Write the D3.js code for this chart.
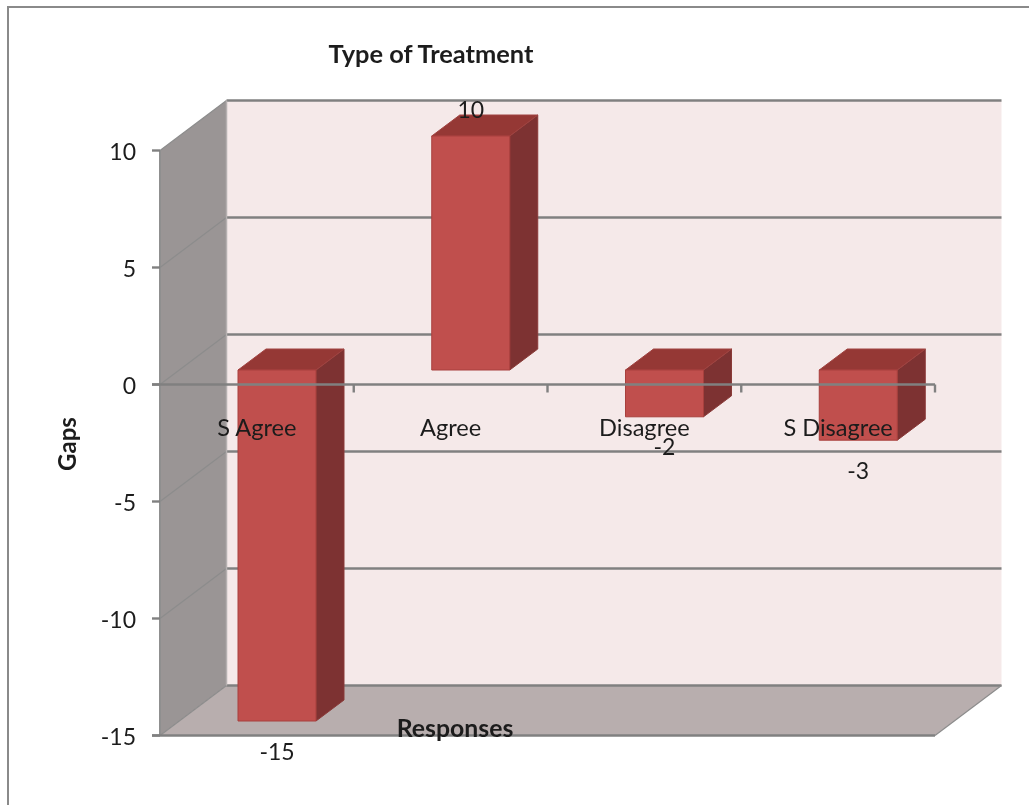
<!DOCTYPE html>
<html><head><meta charset="utf-8">
<script src="https://cdn.jsdelivr.net/npm/d3@7/dist/d3.min.js"></script>
<style>html,body{margin:0;padding:0;background:#fff}svg{display:block}text{font-family:Lato,"Open Sans",sans-serif;fill:#1c1c1c}</style>
</head><body><svg id="c" width="1029" height="805"></svg>
<script>
const categories=["S Agree","Agree","Disagree","S Disagree"];
const gaps=[-15,10,-2,-3];
const yTicks=[10,5,0,-5,-10,-15];
const titleText="Type of Treatment", xTitle="Responses", yTitle="Gaps";

const svg=d3.select("#c");
const defs=svg.append("defs");
defs.append("filter").attr("id","soft").attr("x","-5%").attr("y","-5%").attr("width","110%").attr("height","110%")
  .append("feGaussianBlur").attr("stdDeviation",0.5);
const g=svg.append("g").attr("filter","url(#soft)");

const y=d3.scaleLinear().domain([-15,10]).range([735.5,150.5]);
const x=d3.scaleBand().domain(categories).range([160,935]);
const wallDx=66.5, wallDy=-50;          // depth of the box
const barInset=78, barW=78, barDx=28, barDy=-21, barLift=-14.5; // bar geometry
const line=d3.line();
const poly=(pts,fill,stroke)=>g.append("path").attr("d",line(pts)+"Z").attr("fill",fill).attr("stroke",stroke||"none");
const seg=(x1,y1,x2,y2,c,w)=>g.append("line").attr("x1",x1).attr("y1",y1).attr("x2",x2).attr("y2",y2).attr("stroke",c).attr("stroke-width",w);
const [yMin,yMax]=y.domain(), x0=x.range()[0], x1=x.range()[1];

// chart frame
g.append("path").attr("d",line([[8,815],[8,7],[1040,7]])).attr("fill","none").attr("stroke","#8a8a8a").attr("stroke-width",2);

// walls
poly([[x0+wallDx,y(yMax)+wallDy],[x1+wallDx,y(yMax)+wallDy],[x1+wallDx,y(yMin)+wallDy],[x0+wallDx,y(yMin)+wallDy]],"#f5e9e9");
poly([[x0,y(yMax)],[x0+wallDx,y(yMax)+wallDy],[x0+wallDx,y(yMin)+wallDy],[x0,y(yMin)]],"#9a9595");
poly([[x0,y(yMin)],[x1,y(yMin)],[x1+wallDx,y(yMin)+wallDy],[x0+wallDx,y(yMin)+wallDy]],"#b8aeae");
seg(x0,y(yMax),x0,y(yMin),"#8f8f8f",2);

// gridlines
yTicks.forEach(t=>{
  seg(x0,y(t),x0+wallDx,y(t)+wallDy,"#8c8c8c",1.2);
  seg(x0+wallDx,y(t)+wallDy,x1+wallDx,y(t)+wallDy,"#808080",2.4);
  seg(x0-8,y(t),x0,y(t),"#808080",2.4);
});
seg(x0+wallDx,y(yMax)+wallDy,x0+wallDx,y(yMin)+wallDy,"#b5b0b0",1.5);
seg(x0-8,y(yMin),x1,y(yMin),"#808080",2.4);
seg(x1,y(yMin),x1+wallDx,y(yMin)+wallDy,"#8c8c8c",1.2);

// bars
categories.forEach((c,i)=>{
  const v=gaps[i], L=x(c)+barInset, R=L+barW;
  const top=y(Math.max(v,0))+barLift, bot=y(Math.min(v,0))+barLift;
  poly([[R,top],[R+barDx,top+barDy],[R+barDx,bot+barDy],[R,bot]],"#7d3230","#8a3a38");
  poly([[L,top],[L+barDx,top+barDy],[R+barDx,top+barDy],[R,top]],"#953735","#a04340");
  poly([[L,top],[R,top],[R,bot],[L,bot]],"#c0504d","#a83f3c");
});

// zero axis
seg(x0-8,y(0),x1,y(0),"#808080",2.4);
categories.forEach(c=>seg(x(c)+x.bandwidth(),y(0),x(c)+x.bandwidth(),y(0)+8,"#808080",2.4));

const text=(s,px,py,size,anchor,bold)=>g.append("text").attr("x",px).attr("y",py).attr("font-size",size)
  .attr("text-anchor",anchor).attr("dominant-baseline","central").attr("font-weight",bold?700:400).text(s);

// tick labels
yTicks.forEach(t=>text(d3.format("d")(t).replace("−","-"),136,y(t)+0.5,23,"end"));
categories.forEach(c=>text(c,x(c)+x.bandwidth()/2,426.5,23.6,"middle"));

// data labels
categories.forEach((c,i)=>{
  const v=gaps[i], cx=x(c)+barInset+barW/2;
  const py=v>0?y(v)+barLift-27:y(v)+barLift+29.5;
  text(String(v),cx,py,23,"middle");
});

// titles
text(titleText,431,53,25.4,"middle",true);
text(xTitle,455,727.5,24.8,"middle",true);
text(yTitle,0,0,24,"middle",true).attr("transform","translate(66,444) rotate(-90)").attr("x",0).attr("y",0);
</script></body></html>
